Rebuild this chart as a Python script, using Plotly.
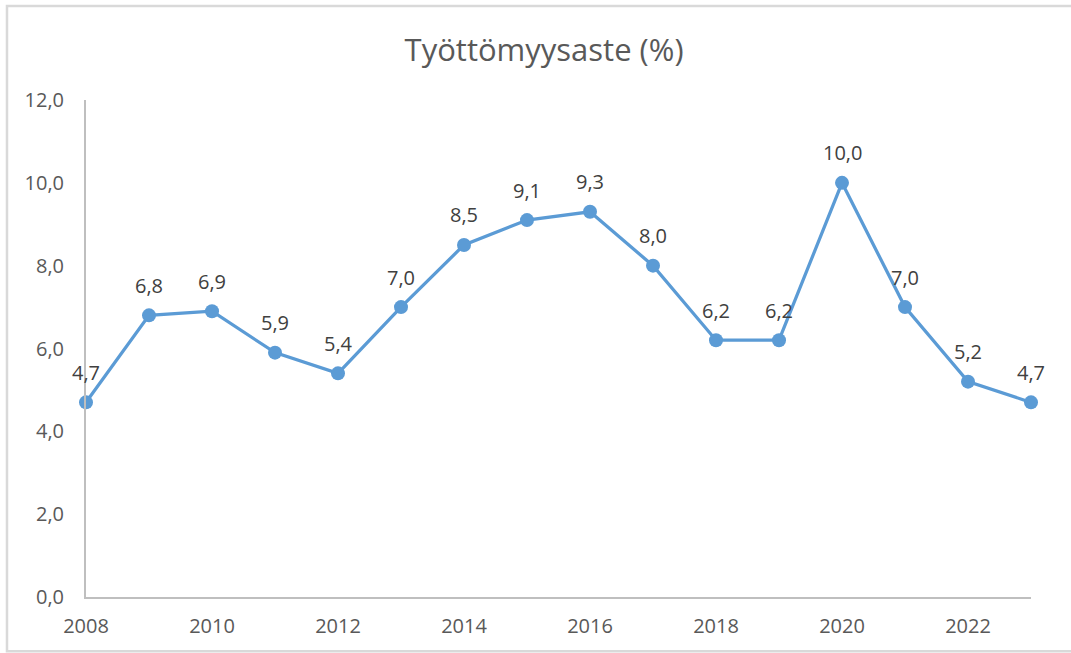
import plotly.graph_objects as go

years = [2008, 2009, 2010, 2011, 2012, 2013, 2014, 2015, 2016, 2017, 2018, 2019, 2020, 2021, 2022, 2023]
rates = [4.7, 6.8, 6.9, 5.9, 5.4, 7.0, 8.5, 9.1, 9.3, 8.0, 6.2, 6.2, 10.0, 7.0, 5.2, 4.7]
title_text = "Työttömyysaste (%)"
x_ticks = [2008, 2010, 2012, 2014, 2016, 2018, 2020, 2022]
y_ticks = [0, 2, 4, 6, 8, 10, 12]

FONT = "Open Sans"
TXT = "#595959"
LINE = "#5B9BD5"

fig = go.Figure()
fig.add_trace(go.Scatter(
    x=years, y=rates, mode="lines+markers",
    line=dict(color=LINE, width=3.25),
    marker=dict(color=LINE, size=14),
    cliponaxis=False, hoverinfo="skip", showlegend=False,
))

for x, v in zip(years, rates):
    fig.add_annotation(
        x=x, y=v, xref="x", yref="y",
        text=f"{v:.1f}".replace(".", ","),
        showarrow=False, yshift=30,
        font=dict(family=FONT, size=20, color="#404040"),
    )

fig.add_shape(type="rect", xref="paper", yref="paper",
              x0=-0.0836, x1=1.2, y0=-0.109, y1=1.189,
              line=dict(color="#D9D9D9", width=2.5))

fig.update_layout(
    width=1071, height=653,
    margin=dict(l=86, r=40, t=100, b=56, autoexpand=False),
    paper_bgcolor="white", plot_bgcolor="white",
    separators=", ",
    title=dict(text=title_text, x=0.508, xanchor="center", y=0.923, yanchor="middle",
               font=dict(family=FONT, size=31, color=TXT)),
    xaxis=dict(range=[2008, 2023], tickvals=x_ticks, ticktext=[str(t) for t in x_ticks],
               showgrid=False, zeroline=False, showline=True, linecolor="#BFBFBF", linewidth=2,
               ticks="", ticklabelstandoff=10, automargin=False,
               tickfont=dict(family=FONT, size=20, color=TXT)),
    yaxis=dict(range=[0, 12], tickvals=y_ticks, tickformat=".1f",
               showgrid=False, zeroline=False, showline=True, linecolor="#BFBFBF", linewidth=2,
               ticks="", ticklabelstandoff=16, automargin=False,
               tickfont=dict(family=FONT, size=20, color=TXT)),
)

fig.write_html("out.html", config={"displayModeBar": False},
               post_script="document.body.style.margin='0';document.body.style.overflow='hidden';")
